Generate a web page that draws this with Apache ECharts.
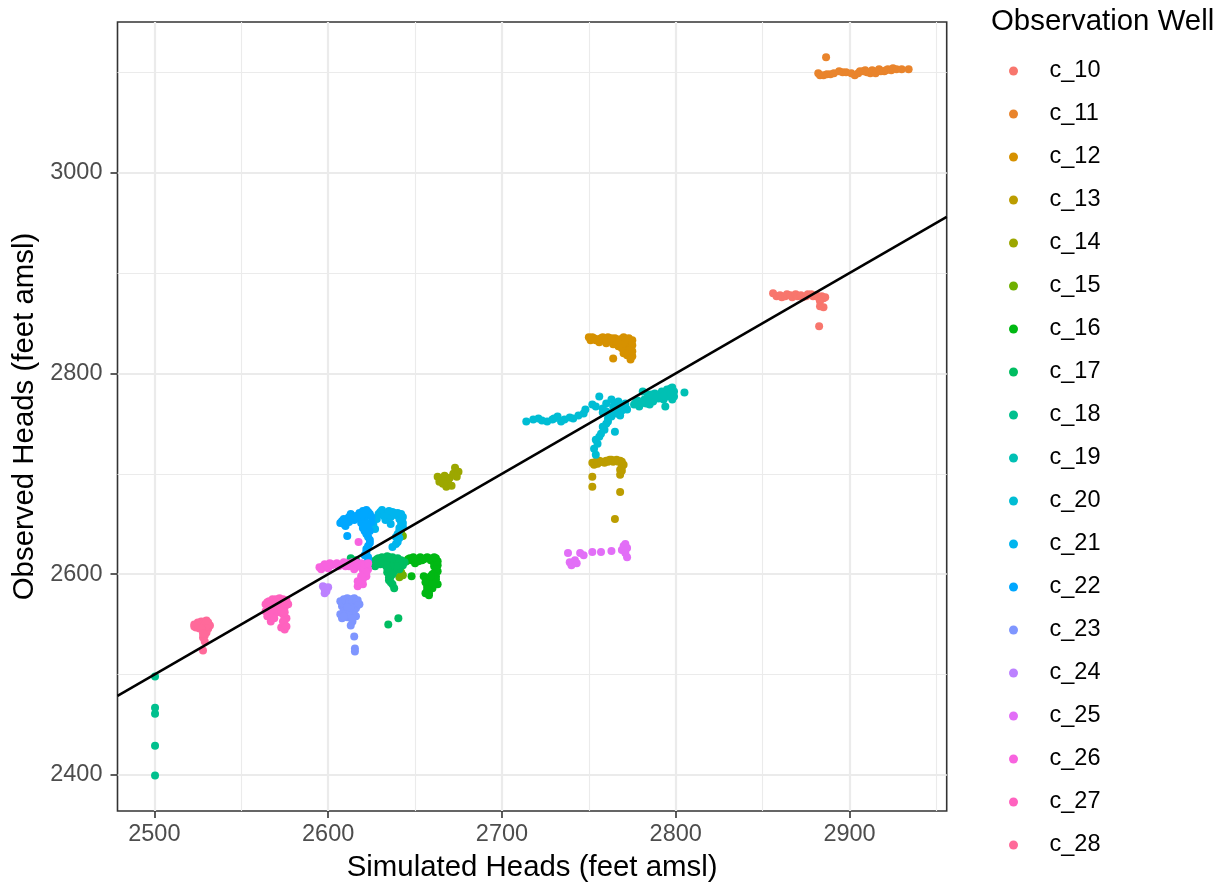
<!DOCTYPE html>
<html>
<head>
<meta charset="utf-8">
<title>Observed vs Simulated Heads</title>
<script src="https://cdn.jsdelivr.net/npm/echarts/dist/echarts.min.js"></script>
<style>
  html, body { margin: 0; padding: 0; background: #fff; }
  #main { width: 1228px; height: 888px; }
</style>
</head>
<body>
<div id="main"></div>
<script>
// axis limits (ggplot default 5% expansion) and breaks
const xMin = 2478.8, xMax = 2955.9;
const yMin = 2364.1, yMax = 3150.1;
const xMajorTicks = [2500, 2600, 2700, 2800, 2900];
const xMinorTicks = [2550, 2650, 2750, 2850, 2950];
const yMajorTicks = [2400, 2600, 2800, 3000];
const yMinorTicks = [2500, 2700, 2900, 3100];

const wells = ["c_10", "c_11", "c_12", "c_13", "c_14", "c_15", "c_16", "c_17", "c_18", "c_19",
  "c_20", "c_21", "c_22", "c_23", "c_24", "c_25", "c_26", "c_27", "c_28"];

// [simulated, observed] per well
const c10 = [[2856,2880],[2858,2877],[2860,2878],[2861,2876],[2863,2877],[2864,2879],[2866,2878],[2867,2876],
  [2869,2879],[2870,2877],[2872,2878],[2873,2876],[2875,2877],[2876,2879],[2878,2879],[2879,2877],[2881,2878],
  [2882,2876],[2884,2877],[2885,2875],[2886,2876],[2883,2872],[2883,2867],[2885,2866],[2882.5,2847]];
const c11 = [[2882,3099],[2883,3097],[2885,3097],[2887,3098],[2889,3098],[2891,3099],[2894,3101],[2896,3100],
  [2898,3100],[2901,3099],[2903,3097],[2905,3099],[2906,3101],[2908,3101],[2909,3102],[2910,3100],[2912,3099],
  [2913,3102],[2914,3101],[2915,3099],[2917,3103],[2918,3101],[2920,3101],[2921,3102],[2922,3103],[2924,3102],
  [2925,3104],[2927,3103],[2930,3103],[2934,3103],[2886.5,3115]];
const c12 = [[2750,2836],[2751,2833],[2753,2835],[2755,2834],[2756,2831],[2757,2835],[2759,2833],[2760,2830],
  [2761,2836],[2762,2834],[2764,2829],[2764,2832],[2765,2835],[2766,2833],[2767,2827],[2768,2834],[2769,2831],
  [2770,2836],[2771,2833],[2772,2829],[2773,2835],[2774,2831],[2773,2826],[2771,2823],[2774,2820],[2772,2818],
  [2775,2817],[2764,2815],[2774,2814],[2769,2825],[2752,2836],[2754,2833],[2758,2836],[2760,2834],[2763,2835],
  [2766,2830],[2770,2830],[2772,2834],[2775,2833],[2775,2828],[2773,2823],[2770,2820],[2775,2822],[2767,2831]];
const c13 = [[2752,2711],[2753,2709],[2754,2712],[2756,2713],[2758,2712],[2760,2713],[2762,2714],[2764,2712],
  [2766,2714],[2768,2713],[2769,2710],[2769,2707],[2768,2704],[2768,2699],[2752,2697],[2752,2687],[2768,2682],
  [2765,2655],[2755,2710],[2757,2712],[2759,2711],[2761,2712],[2763,2714],[2765,2713],[2767,2712],[2769,2712],
  [2770,2709],[2769,2703]];
const c14 = [[2663,2697],[2664,2692],[2665,2695],[2666,2690],[2667,2698],[2668,2687],[2669,2693],[2670,2696],
  [2671,2688],[2672,2700],[2673,2706],[2675,2702],[2674,2697]];
const c15 = [[2641,2597],[2643,2599],[2642,2602],[2643,2638],[2642,2641]];
const c16 = [[2645,2613],[2647,2616],[2648,2614],[2650,2611],[2651,2615],[2653,2617],[2654,2614],[2656,2616],
  [2657,2617],[2659,2614],[2660,2615],[2661,2611],[2662,2616],[2663,2613],[2662,2607],[2663,2603],[2661,2601],
  [2662,2598],[2660,2595],[2661,2592],[2659,2589],[2657,2588],[2658,2584],[2656,2581],[2658,2579],[2660,2586],
  [2663,2590],[2655,2598],[2648,2598],[2661,2608],[2657,2596],[2656,2592],[2646,2615],[2649,2617],[2652,2613],
  [2655,2615],[2658,2616],[2661,2617],[2663,2609],[2662,2605],[2660,2600],[2662,2595],[2660,2590],[2658,2581],
  [2657,2585],[2659,2598]];
const c17 = [[2626,2613],[2627,2608],[2628,2615],[2630,2610],[2631,2617],[2632,2612],[2634,2618],[2634,2602],
  [2635,2610],[2636,2614],[2637,2617],[2637,2606],[2638,2603],[2639,2611],[2640,2616],[2641,2605],[2642,2614],
  [2643,2609],[2644,2612],[2636,2598],[2635,2594],[2637,2590],[2638,2586],[2634.6,2550],[2640.4,2556],
  [2613,2616],[2616,2614],[2629,2616],[2633,2615],[2635,2617],[2638,2614],[2641,2612],[2639,2608],[2636,2608],
  [2633,2609],[2630,2613],[2637,2600],[2635,2597],[2636,2592],[2634,2606],[2628,2611]];
const c18 = [[2500.4,2498],[2500.4,2467],[2500.4,2461],[2500.4,2429],[2500.4,2399.5]];
const c19 = [[2776,2769],[2777,2771],[2779,2767],[2781,2782],[2782,2774],[2783,2770],[2784,2779],[2786,2775],
  [2787,2772],[2788,2780],[2790,2775],[2792,2782],[2793,2774],[2794,2767],[2795,2777],[2796,2782],[2797,2785],
  [2798,2774],[2799,2782],[2805,2781],[2778,2773],[2780,2770],[2784,2773],[2786,2779],[2789,2777],[2791,2779],
  [2793,2778],[2795,2784],[2797,2780],[2799,2777],[2798,2786],[2785,2769]];
const c20 = [[2714,2752],[2721,2755],[2723,2753],[2726,2752],[2729,2754],[2732,2757],[2734,2752],[2736,2754],
  [2739,2756],[2747,2760],[2748,2764],[2752,2769],[2754,2767],[2756,2777],[2758,2761],[2760,2770],[2761,2755],
  [2762,2760],[2763,2774],[2764,2767],[2765,2770],[2766,2764],[2767,2772],[2768,2758],[2770,2767],[2771,2770],
  [2772,2764],[2760,2750],[2759,2744],[2758,2747],[2756,2737],[2754,2734],[2765,2742],[2753,2725],[2754,2719],
  [2757,2740],[2761,2752],[2763,2757],[2766,2760],[2769,2763],[2771,2767],[2758,2765],[2760,2762],[2755,2730],
  [2744,2758],[2741,2755],[2730,2755],[2718,2754]];
const c21 = [[2631,2664],[2633,2654],[2634,2660],[2636,2657],[2637,2662],[2639,2659],[2640,2661],[2641,2655],
  [2642,2650],[2643,2647],[2641,2643],[2639,2637],[2640,2632],[2637,2627],[2629,2660],[2627,2645],[2630,2662],
  [2632,2658],[2635,2663],[2638,2661],[2642,2660],[2643,2657],[2642,2653],[2643,2651],[2641,2646],[2640,2640],
  [2641,2636],[2639,2630],[2628,2655],[2626,2650],[2636,2650]];
const c22 = [[2607,2651],[2608,2653],[2610,2648],[2611,2655],[2613,2660],[2614,2656],[2616,2658],[2618,2661],
  [2620,2663],[2622,2664],[2624,2660],[2621,2655],[2619,2651],[2623,2648],[2625,2652],[2611,2638],[2621,2643],
  [2623,2637],[2624,2631],[2622,2625],[2621,2619],[2623,2614],[2609,2650],[2612,2652],[2615,2654],[2617,2656],
  [2619,2659],[2621,2660],[2623,2662],[2625,2657],[2622,2650],[2620,2646],[2622,2640],[2624,2634],[2623,2628],
  [2622,2622],[2623,2617],[2624,2643],[2612,2657],[2609,2655]];
const c23 = [[2607,2573],[2608,2568],[2609,2575],[2610,2570],[2611,2576],[2612,2565],[2613,2575],[2614,2570],
  [2615,2576],[2616,2566],[2617,2574],[2618,2570],[2614,2562],[2609,2563],[2607,2560],[2608,2556],[2611,2557],
  [2614,2553],[2613,2549],[2616,2558],[2615,2538],[2615.4,2526],[2615.4,2523],[2608,2571],[2610,2574],
  [2612,2572],[2614,2574],[2616,2572],[2617,2569],[2615,2564],[2613,2567],[2611,2567],[2610,2560],[2612,2559],
  [2614,2556],[2609,2558]];
const c24 = [[2597,2588],[2598,2585],[2599,2583],[2600,2587],[2598,2581]];
const c25 = [[2738,2621],[2739,2612],[2740,2609],[2742,2614],[2743,2611],[2745,2621],[2747,2619],[2752,2622],
  [2757,2622],[2763,2623],[2769,2624],[2770,2628],[2771,2630],[2772,2626],[2771,2621],[2772,2617]];
const c26 = [[2595,2607],[2596,2605],[2598,2610],[2600,2606],[2601,2611],[2604,2610],[2607,2609],[2609,2612],
  [2610,2608],[2613,2610],[2615,2605],[2616,2612],[2618,2608],[2619,2611],[2620,2604],[2621,2600],[2622,2609],
  [2622,2598],[2620,2595],[2618,2591],[2617,2588],[2623,2605],[2617.5,2632],[2597,2608],[2599,2609],[2602,2609],
  [2605,2611],[2606,2608],[2611,2611],[2612,2608],[2614,2612],[2617,2610],[2619,2607],[2621,2606],[2622,2602],
  [2619,2598],[2617,2593],[2620,2590],[2621,2610],[2623,2611]];
const c27 = [[2564,2570],[2564,2563],[2565,2558],[2566,2573],[2566,2566],[2567,2553],[2568,2575],[2568,2560],
  [2569,2569],[2569,2556],[2570,2575],[2571,2562],[2572,2576],[2572,2568],[2573,2547],[2574,2575],[2574,2560],
  [2575,2567],[2575,2550],[2575,2545],[2576,2574],[2576,2556],[2577,2570],[2565,2572],[2567,2570],[2570,2572],
  [2573,2573],[2576,2571],[2574,2570],[2571,2565],[2573,2564],[2575,2562],[2574,2553],[2576,2548],[2566,2561],
  [2568,2565]];
const c28 = [[2523,2550],[2524,2547],[2525,2552],[2526,2546],[2527,2553],[2528,2548],[2529,2553],[2529,2544],
  [2530,2542],[2531,2552],[2531,2546],[2532,2549],[2528,2537],[2529,2533],[2528,2524],[2523,2548],[2525,2550],
  [2527,2550],[2529,2550],[2530,2548],[2531,2550],[2527,2546],[2529,2539],[2528,2541],[2530,2554]];

const wellData = [c10, c11, c12, c13, c14, c15, c16, c17, c18, c19,
  c20, c21, c22, c23, c24, c25, c26, c27, c28];

// ggplot2 default hue palette: hcl(h, c = 100, l = 65)
function hclHex(h, c, l) {
  const WX = 95.047, WY = 100.0, WZ = 108.883;
  const hr = h * Math.PI / 180;
  const U = c * Math.cos(hr), V = c * Math.sin(hr);
  const Y = WY * Math.pow((l + 16) / 116, 3);
  const den = WX + 15 * WY + 3 * WZ;
  const u = U / (13 * l) + 4 * WX / den;
  const v = V / (13 * l) + 9 * WY / den;
  const X = 9 * Y * u / (4 * v);
  const Z = -X / 3 - 5 * Y + 3 * Y / v;
  const x = X / 100, y = Y / 100, z = Z / 100;
  const lin = [
    3.240479 * x - 1.537150 * y - 0.498535 * z,
    -0.969256 * x + 1.875992 * y + 0.041556 * z,
    0.055648 * x - 0.204043 * y + 1.057311 * z
  ];
  return "#" + lin.map(function (q) {
    let g = q <= 0.0031308 ? 12.92 * q : 1.055 * Math.pow(q, 1 / 2.4) - 0.055;
    g = Math.max(0, Math.min(1, g));
    return Math.round(g * 255).toString(16).padStart(2, "0");
  }).join("");
}
const hueStep = (360 - 360 / wells.length) / (wells.length - 1);
const colors = wells.map(function (w, i) { return hclHex(15 + i * hueStep, 100, 65); });

const font = "Liberation Sans";
let mycharts = echarts.init(document.getElementById("main"));

let series = wells.map(function (w, i) {
  return {
    name: w,
    type: "scatter",
    xAxisIndex: 0,
    yAxisIndex: 0,
    symbol: "circle",
    symbolSize: 8,
    itemStyle: { color: colors[i], opacity: 1 },
    emphasis: { disabled: true },
    data: wellData[i]
  };
});
// 1:1 line across the panel
series.push({
  name: "1:1",
  type: "line",
  xAxisIndex: 0,
  yAxisIndex: 0,
  symbol: "none",
  silent: true,
  z: 5,
  lineStyle: { color: "#000", width: 2.5 },
  data: [[xMin, xMin], [xMax, xMax]]
});

function plain(v) { return String(v); }

let option = {
  animation: false,
  backgroundColor: "#fff",
  textStyle: { fontFamily: font },
  title: {
    text: "Observation Well",
    left: 991,
    top: 7,
    padding: 0,
    textStyle: { fontFamily: font, fontSize: 29.4, fontWeight: "normal", color: "#000", lineHeight: 30 }
  },
  legend: {
    data: wells,
    orient: "vertical",
    left: 1009,
    top: 59,
    padding: 0,
    icon: "circle",
    itemWidth: 62,
    itemHeight: 9,
    itemGap: 19,
    selectedMode: false,
    textStyle: { fontFamily: font, fontSize: 23.5, lineHeight: 24, color: "#000" }
  },
  grid: {
    left: 117.5,
    right: 281.3,
    top: 22,
    bottom: 77,
    outerBoundsMode: "none",
    containLabel: false,
    show: true,
    borderColor: "#333333",
    borderWidth: 1.6,
    backgroundColor: "transparent"
  },
  xAxis: [
    {
      type: "value",
      min: xMin,
      max: xMax,
      position: "bottom",
      name: "Simulated Heads (feet amsl)",
      nameLocation: "middle",
      nameGap: 42,
      nameTextStyle: { fontFamily: font, fontSize: 29.4, color: "#000" },
      axisLine: { show: false },
      axisTick: { show: true, length: 7, lineStyle: { color: "#333333", width: 1.6 }, customValues: xMajorTicks },
      axisLabel: { customValues: xMajorTicks, formatter: plain, fontFamily: font, fontSize: 23.5, color: "#4D4D4D", margin: 12 },
      splitLine: { show: true, lineStyle: { color: "#EBEBEB", width: 2.2 } }
    },
    {
      type: "value",
      min: xMin,
      max: xMax,
      position: "bottom",
      axisLine: { show: false },
      axisTick: { show: false, customValues: xMinorTicks },
      axisLabel: { show: false, customValues: xMinorTicks },
      splitLine: { show: true, lineStyle: { color: "#EBEBEB", width: 1.1 } }
    }
  ],
  yAxis: [
    {
      type: "value",
      min: yMin,
      max: yMax,
      position: "left",
      name: "Observed Heads (feet amsl)",
      nameLocation: "middle",
      nameGap: 74,
      nameTextStyle: { fontFamily: font, fontSize: 29.4, color: "#000" },
      axisLine: { show: false },
      axisTick: { show: true, length: 7, lineStyle: { color: "#333333", width: 1.6 }, customValues: yMajorTicks },
      axisLabel: { customValues: yMajorTicks, formatter: plain, fontFamily: font, fontSize: 23.5, color: "#4D4D4D", margin: 15 },
      splitLine: { show: true, lineStyle: { color: "#EBEBEB", width: 2.2 } }
    },
    {
      type: "value",
      min: yMin,
      max: yMax,
      position: "left",
      axisLine: { show: false },
      axisTick: { show: false, customValues: yMinorTicks },
      axisLabel: { show: false, customValues: yMinorTicks },
      splitLine: { show: true, lineStyle: { color: "#EBEBEB", width: 1.1 } }
    }
  ],
  series: series
};
mycharts.setOption(option);
</script>
</body>
</html>
